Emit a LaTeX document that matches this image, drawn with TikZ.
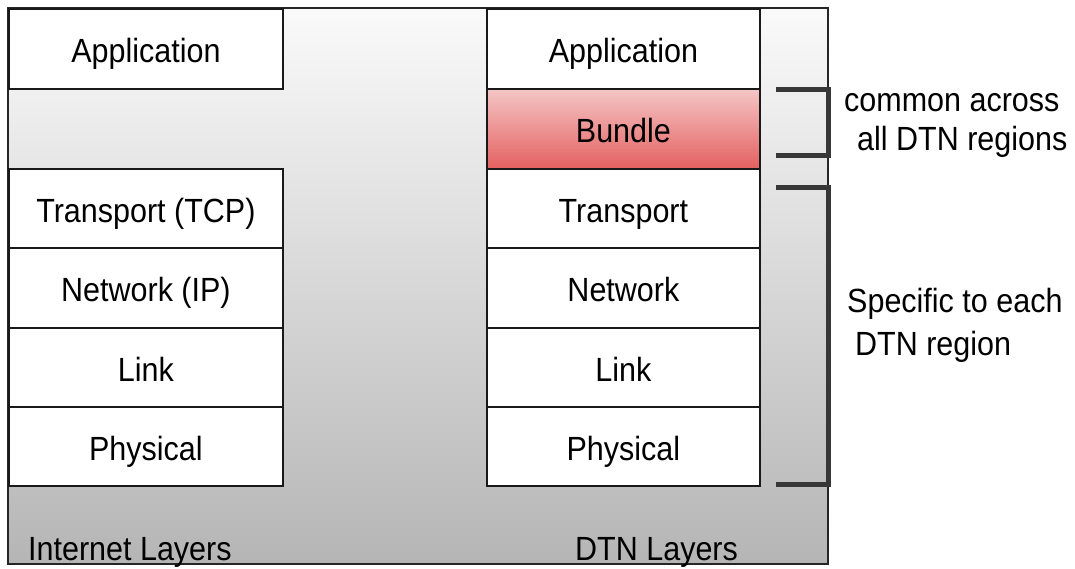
\documentclass[tikz,border=0pt]{standalone}
\usepackage{fontspec}
\setmainfont{Liberation Sans}
\usepackage{graphicx}
\newcommand{\tallt}[1]{\scalebox{1}[1.1]{#1}}
\definecolor{bundletop}{RGB}{245,198,198}
\definecolor{bundlebot}{RGB}{228,96,96}
\definecolor{brk}{RGB}{55,55,55}
\begin{document}
\begin{tikzpicture}[x=1pt,y=-1pt,
  every node/.style={font=\fontsize{30.5}{36}\selectfont},
  layer/.style={draw=black!90, line width=1.8pt, fill=white, rectangle, inner sep=0pt,
    minimum height=80pt, text height=28pt, text depth=0pt, anchor=north west},
  short/.style={minimum height=79pt, text height=27.5pt},
  leftlayer/.style={layer, minimum width=274pt},
  rightlayer/.style={layer, minimum width=273pt},
  bracketline/.style={draw=brk, line width=5pt},
  plain/.style={inner sep=0pt, anchor=base west}]
\useasboundingbox (0,0) rectangle (1075,569);
% background panel
\path[draw=black!85, line width=1.6pt, top color=black!2, bottom color=black!29]
  (8,8) rectangle (828,564);
% left stack
\node[leftlayer] (iapp) at (8,8) {\tallt{Application}};
\node[leftlayer, short] (itcp) at (8,168) {\tallt{Transport (TCP)}};
\node[leftlayer] (iip) at (8,247) {\tallt{Network (IP)}};
\node[leftlayer, short] (ilink) at (8,327) {\tallt{Link}};
\node[leftlayer, short] (iphy) at (8,406) {\tallt{Physical}};
% right stack
\node[rightlayer] (dapp) at (486,8) {\tallt{Application}};
\node[rightlayer, top color=bundletop, bottom color=bundlebot] (dbun) at (486,88) {\tallt{Bundle}};
\node[rightlayer, short] (dtr) at (486,168) {\tallt{Transport}};
\node[rightlayer] (dnet) at (486,247) {\tallt{Network}};
\node[rightlayer, short] (dlink) at (486,327) {\tallt{Link}};
\node[rightlayer, short] (dphy) at (486,406) {\tallt{Physical}};
% bottom labels
\node[plain] (ilab) at (28,560) {\tallt{Internet Layers}};
\node[plain] (dlab) at (575,560) {\tallt{DTN Layers}};
% brackets
\coordinate (b1a) at (776,90);
\coordinate (b1b) at (828,156);
\coordinate (b1c) at (776,156);
\coordinate (b2a) at (776,188);
\coordinate (b2b) at (828,484);
\coordinate (b2c) at (776,484);
\draw[bracketline] (b1a) -| (b1b) -- (b1c);
\draw[bracketline] (b2a) -| (b2b) -- (b2c);
% right labels
\node[plain] (c1) at (844,112) {\tallt{common across}};
\node[plain] (c2) at (857,151) {\tallt{all DTN regions}};
\node[plain] (s1) at (847,312) {\tallt{Specific to each}};
\node[plain] (s2) at (855,355) {\tallt{DTN region}};
\end{tikzpicture}
\end{document}
